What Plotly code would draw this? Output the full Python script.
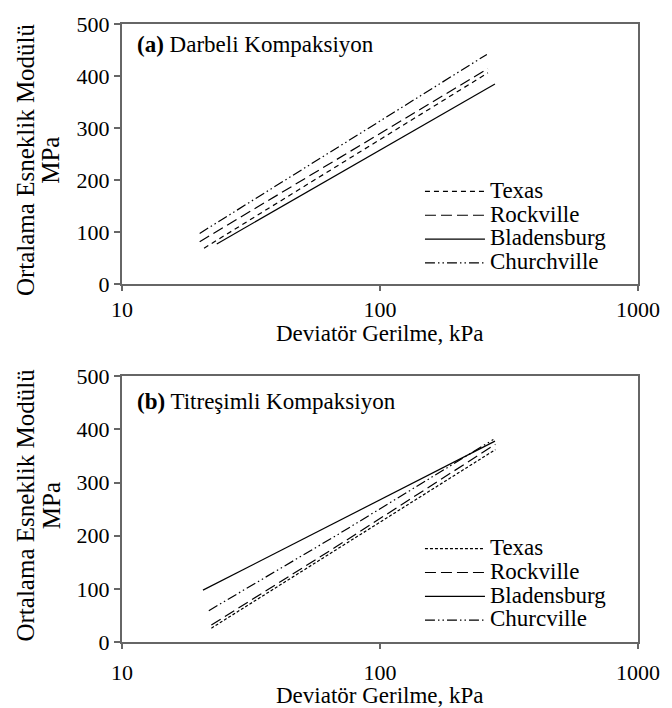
import plotly.graph_objects as go

# ---- data ----
names_a = ["Texas", "Rockville", "Bladensburg", "Churchville"]
names_b = ["Texas", "Rockville", "Bladensburg", "Churcville"]

# (a) Darbeli Kompaksiyon
a_texas_x = [20.8, 100, 262]
a_texas_y = [68.5, 278, 406]
a_rock_x = [20, 100, 262]
a_rock_y = [81, 289, 414]
a_blad_x = [23.3, 100, 279]
a_blad_y = [76.7, 257, 384.5]
a_church_x = [20, 100, 259.6]
a_church_y = [97, 313, 441.5]

# (b) Titreşimli Kompaksiyon
b_texas_x = [22.2, 68, 280]
b_texas_y = [26, 174, 362]
b_rock_x = [22.2, 68, 280]
b_rock_y = [32, 180, 372]
b_blad_x = [20.6, 68, 279]
b_blad_y = [97.6, 226, 378]
b_church_x = [21.7, 68, 275]
b_church_y = [59, 201, 381]

y_ticks = [0, 100, 200, 300, 400, 500]
x_ticks = [10, 100, 1000]

dash_a = ["5px,4px", "11px,5px", "solid", "10px,3px,1.5px,3px,1.5px,3px"]
dash_b = ["3px,2px", "11px,5px", "solid", "10px,3px,1.5px,3px,1.5px,3px"]
FONT = "Liberation Serif, Times New Roman, serif"
AX = "#666666"
LEG_TXT = 23

fig = go.Figure()

top = [(a_texas_x, a_texas_y), (a_rock_x, a_rock_y), (a_blad_x, a_blad_y), (a_church_x, a_church_y)]
bot = [(b_texas_x, b_texas_y), (b_rock_x, b_rock_y), (b_blad_x, b_blad_y), (b_church_x, b_church_y)]

def lname(n):
    return '<span style="font-size:%dpx">%s</span>' % (LEG_TXT, n)

for (xs, ys), nm, d in zip(top, names_a, dash_a):
    fig.add_trace(go.Scatter(x=xs, y=ys, mode="lines", name=lname(nm),
                             line=dict(color="black", width=1.2, dash=d),
                             xaxis="x", yaxis="y", legend="legend"))
for (xs, ys), nm, d in zip(bot, names_b, dash_b):
    fig.add_trace(go.Scatter(x=xs, y=ys, mode="lines", name=lname(nm),
                             line=dict(color="black", width=1.2, dash=d),
                             xaxis="x2", yaxis="y2", legend="legend2"))

xax = dict(type="log", range=[1, 3], tickvals=x_ticks, ticktext=[str(v) for v in x_ticks],
           showgrid=False, zeroline=False, showline=True, linecolor=AX, linewidth=2,
           mirror=True, ticks="outside", ticklen=5, tickcolor=AX, tickwidth=1.5,
           tickfont=dict(size=22, color="black", family=FONT))
yax = dict(range=[0, 500], tickvals=y_ticks, showgrid=False, zeroline=False, showline=True,
           linecolor=AX, linewidth=2, mirror=True, ticks="outside", ticklen=6, tickcolor=AX,
           tickwidth=1.5, tickfont=dict(size=22, color="black", family=FONT))

leg = dict(font=dict(size=16, color="black", family=FONT), bgcolor="rgba(0,0,0,0)",
           xanchor="left", yanchor="top", itemwidth=60, tracegroupgap=0, itemclick=False)

# paper coordinates: plot area spans x 122..645 px, y 14..642 px (height 628)
def py(p):
    return (642 - p) / 628.0

def px_(p):
    return (p - 122) / 523.0

tfont = dict(size=23, color="black", family=FONT)
annotations = [
    dict(text="<b>(a)</b> Darbeli Kompaksiyon", xref="paper", yref="paper",
         x=px_(135), y=py(35), xanchor="left", yanchor="middle", showarrow=False, font=tfont),
    dict(text="<b>(b)</b> Titreşimli Kompaksiyon", xref="paper", yref="paper",
         x=px_(135), y=py(398), xanchor="left", yanchor="middle", showarrow=False, font=tfont),
]
for yc in (152, 503):
    annotations.append(dict(text="Ortalama Esneklik Modülü", xref="paper", yref="paper",
                            x=px_(24), y=py(yc), xanchor="center", yanchor="middle",
                            textangle=-90, showarrow=False, font=dict(tfont, size=25)))
    annotations.append(dict(text="MPa", xref="paper", yref="paper",
                            x=px_(50), y=py(yc), xanchor="center", yanchor="middle",
                            textangle=-90, showarrow=False, font=dict(tfont, size=25)))
for yc in (328, 696):
    annotations.append(dict(text="Deviatör Gerilme, kPa", xref="paper", yref="paper",
                            x=0.5, y=py(yc), xanchor="center", yanchor="middle",
                            showarrow=False, font=dict(size=23, color="black", family=FONT)))

fig.update_layout(
    width=672, height=708,
    margin=dict(l=122, r=27, t=14, b=66),
    paper_bgcolor="white", plot_bgcolor="white",
    font=dict(family=FONT, color="black"),
    xaxis=dict(xax, domain=[0, 1], anchor="y"),
    yaxis=dict(yax, domain=[py(278), 1], anchor="x"),
    xaxis2=dict(xax, domain=[0, 1], anchor="y2", ticklabelstandoff=5),
    yaxis2=dict(yax, domain=[0, py(372)], anchor="x2"),
    legend=dict(leg, x=px_(424), y=py(167)),
    legend2=dict(leg, x=px_(424), y=py(530)),
    annotations=annotations,
)

# remove the default page margin so the figure fills the window exactly; hide the mode bar
fig.write_html("out.html", config={"displayModeBar": False},
               post_script="document.body.style.margin='0';document.body.style.overflow='hidden';")
